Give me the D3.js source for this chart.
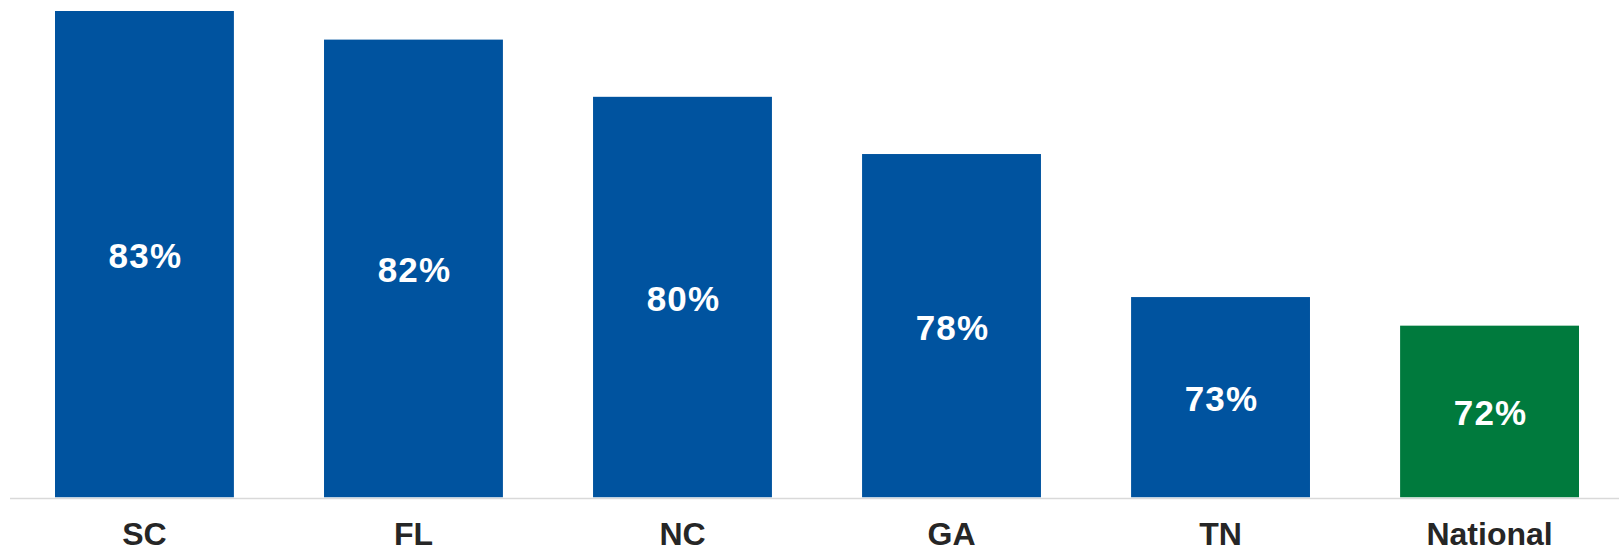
<!DOCTYPE html>
<html>
<head>
<meta charset="utf-8">
<script src="https://cdn.jsdelivr.net/npm/d3@7"></script>
<style>
  html, body { margin: 0; padding: 0; background: #ffffff; }
  svg { display: block; }
</style>
</head>
<body>
<svg id="chart" width="1619" height="552"></svg>
<script>
// Share by state, with the national figure for comparison
const categories = ["SC", "FL", "NC", "GA", "TN", "National"];
const values = [83, 82, 80, 78, 73, 72];
const barColors = ["#00539f", "#00539f", "#00539f", "#00539f", "#00539f", "#007a3d"];
const valueLabels = ["83%", "82%", "80%", "78%", "73%", "72%"];

const svg = d3.select("#chart");
const W = 1619;

const x = d3.scaleBand()
  .domain(categories)
  .range([55, 1579])
  .paddingInner(0.335)
  .paddingOuter(0);

const y = d3.scaleLinear()
  .domain([66, 83])
  .range([497.3, 11]);

// bars
svg.append("g")
  .selectAll("rect")
  .data(categories)
  .join("rect")
  .attr("x", d => x(d))
  .attr("width", x.bandwidth())
  .attr("y", (d, i) => y(values[i]))
  .attr("height", (d, i) => y.range()[0] - y(values[i]))
  .attr("fill", (d, i) => barColors[i]);

// value labels centred inside each bar
svg.append("g")
  .selectAll("text")
  .data(categories)
  .join("text")
  .attr("x", d => x(d) + x.bandwidth() / 2 + 1)
  .attr("y", (d, i) => (y(values[i]) + y.range()[0]) / 2 + 1.5)
  .attr("text-anchor", "middle")
  .attr("dominant-baseline", "central")
  .attr("fill", "#ffffff")
  .attr("font-family", "'Liberation Sans', Arial, sans-serif")
  .attr("font-weight", "bold")
  .attr("font-size", 35)
  .attr("letter-spacing", 1.2)
  .text((d, i) => valueLabels[i]);

// category axis
const xAxis = d3.axisBottom(x).tickSize(0).tickPadding(0);
const axisG = svg.append("g")
  .attr("transform", `translate(0, ${y.range()[0]})`)
  .call(xAxis);
axisG.select(".domain").remove();
axisG.append("line")
  .attr("x1", 10)
  .attr("x2", W)
  .attr("y1", 1.2)
  .attr("y2", 1.2)
  .attr("stroke", "#d9d9d9")
  .attr("stroke-width", 1.6);
axisG.selectAll(".tick text")
  .attr("y", 47.8)
  .attr("dy", 0)
  .attr("fill", "#262626")
  .attr("font-family", "'Liberation Sans', Arial, sans-serif")
  .attr("font-weight", "bold")
  .attr("font-size", 32);
</script>
</body>
</html>
